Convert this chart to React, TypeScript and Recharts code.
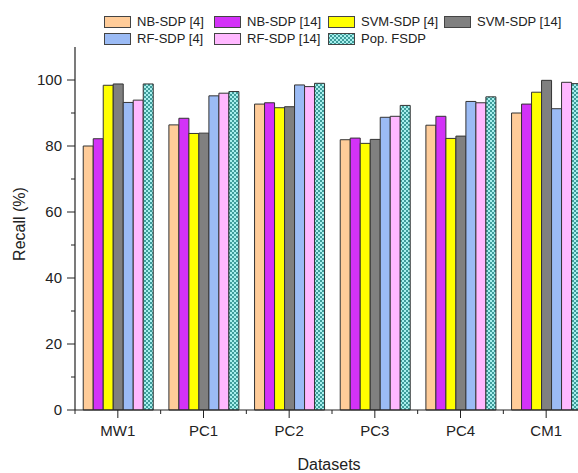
import React from 'react';
import { BarChart, Bar, XAxis, YAxis } from 'recharts';

const datasets = ['MW1', 'PC1', 'PC2', 'PC3', 'PC4', 'CM1'];
const nbSdp4 = [80.0, 86.4, 92.7, 81.9, 86.3, 90.0];
const nbSdp14 = [82.2, 88.4, 93.1, 82.4, 89.0, 92.7];
const svmSdp4 = [98.4, 83.8, 91.6, 80.8, 82.3, 96.3];
const svmSdp14 = [98.8, 83.9, 91.9, 82.0, 83.0, 99.9];
const rfSdp4 = [93.2, 95.2, 98.5, 88.7, 93.5, 91.3];
const rfSdp14 = [93.9, 96.0, 98.0, 89.0, 93.1, 99.3];
const popFsdp = [98.8, 96.5, 99.0, 92.3, 94.9, 98.9];
const yTicks = [0, 10, 20, 30, 40, 50, 60, 70, 80, 90, 100];

const series = [
  { key: 'nb4', name: 'NB-SDP [4]', values: nbSdp4, fill: '#FFCC99' },
  { key: 'nb14', name: 'NB-SDP [14]', values: nbSdp14, fill: '#D332F8' },
  { key: 'svm4', name: 'SVM-SDP [4]', values: svmSdp4, fill: '#FFFF00' },
  { key: 'svm14', name: 'SVM-SDP [14]', values: svmSdp14, fill: '#808080' },
  { key: 'rf4', name: 'RF-SDP [4]', values: rfSdp4, fill: '#9BBBF5' },
  { key: 'rf14', name: 'RF-SDP [14]', values: rfSdp14, fill: '#FFB8FF' },
  { key: 'pop', name: 'Pop. FSDP', values: popFsdp, fill: 'url(#checker)' },
];

const data = datasets.map((d, i) => {
  const row: Record<string, string | number> = { name: d };
  series.forEach((s) => {
    row[s.key] = s.values[i];
  });
  return row;
});

const FONT = '"Liberation Sans", Arial, sans-serif';
const CHART_W = 610;
const CHART_H = 473;
const MARGIN = { top: 47, right: 21, left: 0, bottom: 33 };
const Y_W = 75;
const BAND = (CHART_W - MARGIN.left - MARGIN.right - Y_W) / datasets.length;

const YTick = (props: any) => {
  const { x, y, payload } = props;
  const ax = x + 13;
  const major = payload.value % 20 === 0;
  return (
    <g>
      <line x1={ax} x2={ax - (major ? 8 : 4)} y1={y} y2={y} stroke="#222" strokeWidth={1} />
      {major && (
        <text x={x} y={y} dy={5} textAnchor="end" fontSize={15} fill="#222" fontFamily={FONT}>
          {payload.value}
        </text>
      )}
    </g>
  );
};

const XTick = (props: any) => {
  const { x, y, payload, index } = props;
  const ay = y - 10;
  return (
    <g>
      <line x1={x} x2={x} y1={ay} y2={ay + 8} stroke="#222" strokeWidth={1} />
      <line x1={x - BAND / 2} x2={x - BAND / 2} y1={ay} y2={ay + 4} stroke="#222" strokeWidth={1} />
      {index === datasets.length - 1 && (
        <line x1={x + BAND / 2} x2={x + BAND / 2} y1={ay} y2={ay + 4} stroke="#222" strokeWidth={1} />
      )}
      <text x={x} y={y} dy={16} textAnchor="middle" fontSize={15} fill="#222" fontFamily={FONT}>
        {payload.value}
      </text>
    </g>
  );
};

const Swatch = ({ fill }: { fill: string }) => (
  <svg width={27} height={12} style={{ display: 'block' }}>
    <defs>
      <pattern id="checkerLegend" width={4} height={4} patternUnits="userSpaceOnUse">
        <rect width={4} height={4} fill="#A8F0EE" />
        <rect width={2} height={2} fill="#3E9C9A" />
        <rect x={2} y={2} width={2} height={2} fill="#3E9C9A" />
      </pattern>
    </defs>
    <rect
      x={0.5}
      y={0.5}
      width={26}
      height={11}
      fill={fill === 'url(#checker)' ? 'url(#checkerLegend)' : fill}
      stroke="#444"
      strokeWidth={1}
    />
  </svg>
);

const legendCols = [104, 214, 328, 444];

export default function App() {
  return (
    <div
      style={{
        position: 'fixed',
        left: 0,
        top: 0,
        width: 578,
        height: 473,
        overflow: 'hidden',
        background: '#fff',
        fontFamily: FONT,
        color: '#222',
      }}
    >
      {series.map((s, i) => (
        <div
          key={s.key}
          style={{
            position: 'absolute',
            left: legendCols[i % 4],
            top: i < 4 ? 14 : 31,
            display: 'flex',
            alignItems: 'center',
            fontSize: 13,
            whiteSpace: 'nowrap',
          }}
        >
          <Swatch fill={s.fill} />
          <span style={{ marginLeft: 6 }}>{s.name}</span>
        </div>
      ))}
      <div
        style={{
          position: 'absolute',
          left: 20,
          top: 224,
          transform: 'translate(-50%, -50%) rotate(-90deg)',
          fontSize: 16,
          whiteSpace: 'nowrap',
        }}
      >
        Recall (%)
      </div>
      <div
        style={{
          position: 'absolute',
          left: 329,
          top: 465,
          transform: 'translate(-50%, -50%)',
          fontSize: 16,
          whiteSpace: 'nowrap',
        }}
      >
        Datasets
      </div>
      <BarChart width={CHART_W} height={CHART_H} data={data} margin={MARGIN} barCategoryGap="9.6%" barGap={0}>
        <defs>
          <pattern id="checker" width={4} height={4} patternUnits="userSpaceOnUse">
            <rect width={4} height={4} fill="#A8F0EE" />
            <rect width={2} height={2} fill="#3E9C9A" />
            <rect x={2} y={2} width={2} height={2} fill="#3E9C9A" />
          </pattern>
        </defs>
        <XAxis
          dataKey="name"
          axisLine={{ stroke: '#222', strokeWidth: 1.2 }}
          tickLine={false}
          tick={<XTick />}
          interval={0}
          height={30}
          tickSize={0}
          tickMargin={10}
        />
        <YAxis
          domain={[0, 110]}
          ticks={yTicks}
          width={Y_W}
          axisLine={{ stroke: '#222', strokeWidth: 1.2 }}
          tickLine={false}
          tick={<YTick />}
          tickSize={8}
          tickMargin={5}
          interval={0}
        />
        {series.map((s) => (
          <Bar
            key={s.key}
            dataKey={s.key}
            name={s.name}
            fill={s.fill}
            stroke="#333"
            strokeWidth={1}
            isAnimationActive={false}
          />
        ))}
      </BarChart>
    </div>
  );
}
